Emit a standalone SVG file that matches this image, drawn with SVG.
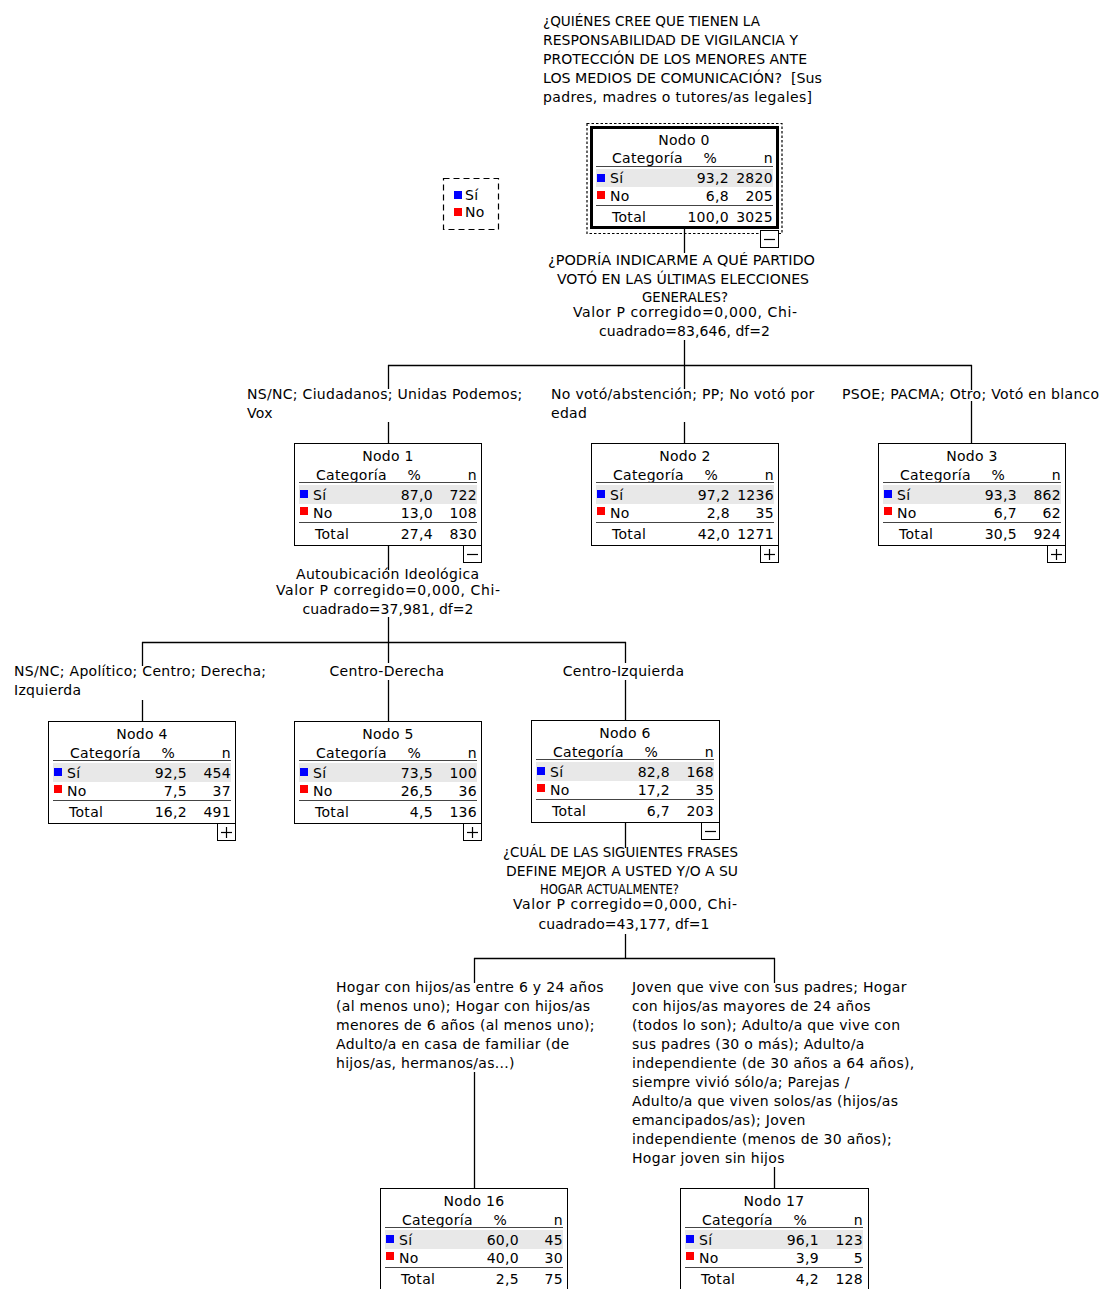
<svg xmlns="http://www.w3.org/2000/svg" width="1105" height="1289" viewBox="0 0 1105 1289">
<style>
text{font-family:"DejaVu Sans","Liberation Sans",sans-serif;font-size:14px;letter-spacing:0.3px;fill:#000}
.fit{letter-spacing:0}
.c{text-anchor:middle}
.r{text-anchor:end}
.box{fill:#fff;stroke:#000;stroke-width:1}
.sep{stroke:#444;stroke-width:1.2}
.band{fill:#e8e8e8}
.si{fill:#0000ff}
.no{fill:#ff0000}
.tog{fill:#fff;stroke:#000;stroke-width:1}
.sym{stroke:#000;stroke-width:1.2}
.conn line{stroke:#000;stroke-width:1.3}
</style>
<defs>
<g id="sym-minus"><rect class="tog" x="0.5" y="0.5" width="18" height="17"/><line class="sym" x1="4" y1="9.5" x2="15" y2="9.5"/></g>
<g id="sym-plus"><rect class="tog" x="0.5" y="0.5" width="18" height="17"/><line class="sym" x1="4" y1="9.5" x2="15" y2="9.5"/><line class="sym" x1="9.5" y1="4" x2="9.5" y2="15"/></g>
</defs>

<!-- connectors -->
<g id="connectors" class="conn">
<line x1="684.5" y1="229" x2="684.5" y2="253"/>
<line x1="684.5" y1="340" x2="684.5" y2="365"/>
<line x1="388" y1="365.5" x2="972" y2="365.5"/>
<line x1="388.5" y1="365" x2="388.5" y2="389"/>
<line x1="388.5" y1="422" x2="388.5" y2="443"/>
<line x1="684.5" y1="365" x2="684.5" y2="389"/>
<line x1="684.5" y1="422" x2="684.5" y2="443"/>
<line x1="971.5" y1="365" x2="971.5" y2="390"/>
<line x1="971.5" y1="401" x2="971.5" y2="443"/>
<line x1="388.5" y1="546" x2="388.5" y2="570"/>
<line x1="388.5" y1="617" x2="388.5" y2="642"/>
<line x1="142" y1="642.5" x2="626" y2="642.5"/>
<line x1="142.5" y1="642" x2="142.5" y2="666"/>
<line x1="142.5" y1="700" x2="142.5" y2="721"/>
<line x1="388.5" y1="642" x2="388.5" y2="663"/>
<line x1="388.5" y1="680" x2="388.5" y2="721"/>
<line x1="625.5" y1="642" x2="625.5" y2="663"/>
<line x1="625.5" y1="680" x2="625.5" y2="721"/>
<line x1="625.5" y1="822" x2="625.5" y2="848"/>
<line x1="625.5" y1="934" x2="625.5" y2="958"/>
<line x1="474" y1="958.5" x2="775" y2="958.5"/>
<line x1="474.5" y1="958" x2="474.5" y2="983"/>
<line x1="474.5" y1="1072" x2="474.5" y2="1188"/>
<line x1="774.5" y1="958" x2="774.5" y2="983"/>
<line x1="774.5" y1="1167" x2="774.5" y2="1188"/>
</g>

<!-- dependent variable title -->
<g id="title">
<text class="fit" x="543" y="26" textLength="217" lengthAdjust="spacingAndGlyphs">¿QUIÉNES CREE QUE TIENEN LA</text>
<text class="fit" x="543" y="45" textLength="255" lengthAdjust="spacingAndGlyphs">RESPONSABILIDAD DE VIGILANCIA Y</text>
<text class="fit" x="543" y="64" textLength="264" lengthAdjust="spacingAndGlyphs">PROTECCIÓN DE LOS MENORES ANTE</text>
<text class="fit" x="543" y="83" textLength="279" lengthAdjust="spacingAndGlyphs">LOS MEDIOS DE COMUNICACIÓN?&#160; [Sus</text>
<text class="fit" x="543" y="102" textLength="269">padres, madres o tutores/as legales]</text>
</g>

<!-- legend -->
<g id="legend">
<rect x="443.5" y="178.5" width="55" height="51" fill="none" stroke="#000" stroke-width="1.2" stroke-dasharray="6,4"/>
<rect class="si" x="454" y="191" width="8" height="8"/>
<text x="465" y="200">Sí</text>
<rect class="no" x="454" y="208" width="8" height="8"/>
<text x="465" y="217">No</text>
</g>

<!-- split labels -->
<g id="split0">
<text class="c fit" x="681.5" y="265" textLength="267" lengthAdjust="spacingAndGlyphs">¿PODRÍA INDICARME A QUÉ PARTIDO</text>
<text class="c fit" x="683" y="284" textLength="252" lengthAdjust="spacingAndGlyphs">VOTÓ EN LAS ÚLTIMAS ELECCIONES</text>
<text class="c fit" x="685" y="302" textLength="86" lengthAdjust="spacingAndGlyphs">GENERALES?</text>
<text class="c fit" x="685" y="317" textLength="224">Valor P corregido=0,000, Chi-</text>
<text class="c fit" x="684.5" y="336" textLength="171">cuadrado=83,646, df=2</text>
</g>
<g id="split1">
<text class="c fit" x="387.5" y="579" textLength="183">Autoubicación Ideológica</text>
<text class="c fit" x="388" y="595" textLength="224">Valor P corregido=0,000, Chi-</text>
<text class="c fit" x="388" y="614" textLength="171">cuadrado=37,981, df=2</text>
</g>
<g id="split6">
<text class="c fit" x="620.5" y="857" textLength="235" lengthAdjust="spacingAndGlyphs">¿CUÁL DE LAS SIGUIENTES FRASES</text>
<text class="c fit" x="622" y="876" textLength="232" lengthAdjust="spacingAndGlyphs">DEFINE MEJOR A USTED Y/O A SU</text>
<text class="c fit" x="609.5" y="894" textLength="139" lengthAdjust="spacingAndGlyphs">HOGAR ACTUALMENTE?</text>
<text class="c fit" x="625" y="909" textLength="224">Valor P corregido=0,000, Chi-</text>
<text class="c fit" x="624" y="929" textLength="171">cuadrado=43,177, df=1</text>
</g>

<!-- branch labels -->
<g id="branch-labels">
<text x="247" y="399">NS/NC; Ciudadanos; Unidas Podemos;</text>
<text x="247" y="418">Vox</text>
<text x="551" y="399">No votó/abstención; PP; No votó por</text>
<text x="551" y="418">edad</text>
<text x="842" y="399">PSOE; PACMA; Otro; Votó en blanco</text>
<text x="14" y="676" class="fit" textLength="252">NS/NC; Apolítico; Centro; Derecha;</text>
<text x="14" y="695">Izquierda</text>
<text class="c" x="387" y="676">Centro-Derecha</text>
<text class="c" x="623.5" y="676">Centro-Izquierda</text>
<text x="336" y="992">Hogar con hijos/as entre 6 y 24 años</text>
<text x="336" y="1011">(al menos uno); Hogar con hijos/as</text>
<text x="336" y="1030">menores de 6 años (al menos uno);</text>
<text x="336" y="1049">Adulto/a en casa de familiar (de</text>
<text x="336" y="1068">hijos/as, hermanos/as...)</text>
<text x="632" y="992">Joven que vive con sus padres; Hogar</text>
<text x="632" y="1011">con hijos/as mayores de 24 años</text>
<text x="632" y="1030">(todos lo son); Adulto/a que vive con</text>
<text x="632" y="1049">sus padres (30 o más); Adulto/a</text>
<text x="632" y="1068">independiente (de 30 años a 64 años),</text>
<text x="632" y="1087">siempre vivió sólo/a; Parejas /</text>
<text x="632" y="1106">Adulto/a que viven solos/as (hijos/as</text>
<text x="632" y="1125">emancipados/as); Joven</text>
<text x="632" y="1144">independiente (menos de 30 años);</text>
<text x="632" y="1163">Hogar joven sin hijos</text>
</g>

<!-- Node 0 -->
<g id="node0">
<rect x="587" y="123.5" width="195" height="110" fill="none" stroke="#000" stroke-width="1.2" stroke-dasharray="2.5,2"/>
<g transform="translate(590,126)">
<rect x="1.5" y="1.5" width="186" height="100" fill="#fff" stroke="#000" stroke-width="3"/>
<text class="c" x="94" y="19">Nodo 0</text>
<text x="22" y="37">Categoría</text><text class="r" x="127" y="37">%</text><text class="r" x="183" y="37">n</text>
<line class="sep" x1="6" y1="40.5" x2="183" y2="40.5"/>
<rect class="band" x="6" y="43" width="177" height="18"/>
<rect class="si" x="7" y="48" width="8" height="8"/>
<text x="20" y="57">Sí</text><text class="r" x="139" y="57">93,2</text><text class="r" x="183" y="57">2820</text>
<rect class="no" x="7" y="65" width="8" height="8"/>
<text x="20" y="75">No</text><text class="r" x="139" y="75">6,8</text><text class="r" x="183" y="75">205</text>
<line class="sep" x1="6" y1="79.5" x2="183" y2="79.5"/>
<text x="22" y="96">Total</text><text class="r" x="139" y="96">100,0</text><text class="r" x="183" y="96">3025</text>
</g>
<use href="#sym-minus" x="760" y="230"/>
</g>

<!-- generic nodes -->
<g id="node1" transform="translate(294,443)">
<rect class="box" x="0.5" y="0.5" width="187" height="102"/>
<text class="c" x="94" y="18">Nodo 1</text>
<text x="22" y="37">Categoría</text><text class="r" x="127" y="37">%</text><text class="r" x="183" y="37">n</text>
<line class="sep" x1="5" y1="39.5" x2="183" y2="39.5"/>
<rect class="band" x="5" y="42" width="178" height="19"/>
<rect class="si" x="6" y="47" width="8" height="8"/>
<text x="19" y="57">Sí</text><text class="r" x="139" y="57">87,0</text><text class="r" x="183" y="57">722</text>
<rect class="no" x="6" y="64" width="8" height="8"/>
<text x="19" y="75">No</text><text class="r" x="139" y="75">13,0</text><text class="r" x="183" y="75">108</text>
<line class="sep" x1="5" y1="79.5" x2="183" y2="79.5"/>
<text x="21" y="96">Total</text><text class="r" x="139" y="96">27,4</text><text class="r" x="183" y="96">830</text>
<use href="#sym-minus" x="169" y="102"/>
</g>

<g id="node2" transform="translate(591,443)">
<rect class="box" x="0.5" y="0.5" width="187" height="102"/>
<text class="c" x="94" y="18">Nodo 2</text>
<text x="22" y="37">Categoría</text><text class="r" x="127" y="37">%</text><text class="r" x="183" y="37">n</text>
<line class="sep" x1="5" y1="39.5" x2="183" y2="39.5"/>
<rect class="band" x="5" y="42" width="178" height="19"/>
<rect class="si" x="6" y="47" width="8" height="8"/>
<text x="19" y="57">Sí</text><text class="r" x="139" y="57">97,2</text><text class="r" x="183" y="57">1236</text>
<rect class="no" x="6" y="64" width="8" height="8"/>
<text x="19" y="75">No</text><text class="r" x="139" y="75">2,8</text><text class="r" x="183" y="75">35</text>
<line class="sep" x1="5" y1="79.5" x2="183" y2="79.5"/>
<text x="21" y="96">Total</text><text class="r" x="139" y="96">42,0</text><text class="r" x="183" y="96">1271</text>
<use href="#sym-plus" x="169" y="102"/>
</g>

<g id="node3" transform="translate(878,443)">
<rect class="box" x="0.5" y="0.5" width="187" height="102"/>
<text class="c" x="94" y="18">Nodo 3</text>
<text x="22" y="37">Categoría</text><text class="r" x="127" y="37">%</text><text class="r" x="183" y="37">n</text>
<line class="sep" x1="5" y1="39.5" x2="183" y2="39.5"/>
<rect class="band" x="5" y="42" width="178" height="19"/>
<rect class="si" x="6" y="47" width="8" height="8"/>
<text x="19" y="57">Sí</text><text class="r" x="139" y="57">93,3</text><text class="r" x="183" y="57">862</text>
<rect class="no" x="6" y="64" width="8" height="8"/>
<text x="19" y="75">No</text><text class="r" x="139" y="75">6,7</text><text class="r" x="183" y="75">62</text>
<line class="sep" x1="5" y1="79.5" x2="183" y2="79.5"/>
<text x="21" y="96">Total</text><text class="r" x="139" y="96">30,5</text><text class="r" x="183" y="96">924</text>
<use href="#sym-plus" x="169" y="102"/>
</g>

<g id="node4" transform="translate(48,721)">
<rect class="box" x="0.5" y="0.5" width="187" height="102"/>
<text class="c" x="94" y="18">Nodo 4</text>
<text x="22" y="37">Categoría</text><text class="r" x="127" y="37">%</text><text class="r" x="183" y="37">n</text>
<line class="sep" x1="5" y1="39.5" x2="183" y2="39.5"/>
<rect class="band" x="5" y="42" width="178" height="19"/>
<rect class="si" x="6" y="47" width="8" height="8"/>
<text x="19" y="57">Sí</text><text class="r" x="139" y="57">92,5</text><text class="r" x="183" y="57">454</text>
<rect class="no" x="6" y="64" width="8" height="8"/>
<text x="19" y="75">No</text><text class="r" x="139" y="75">7,5</text><text class="r" x="183" y="75">37</text>
<line class="sep" x1="5" y1="79.5" x2="183" y2="79.5"/>
<text x="21" y="96">Total</text><text class="r" x="139" y="96">16,2</text><text class="r" x="183" y="96">491</text>
<use href="#sym-plus" x="169" y="102"/>
</g>

<g id="node5" transform="translate(294,721)">
<rect class="box" x="0.5" y="0.5" width="187" height="102"/>
<text class="c" x="94" y="18">Nodo 5</text>
<text x="22" y="37">Categoría</text><text class="r" x="127" y="37">%</text><text class="r" x="183" y="37">n</text>
<line class="sep" x1="5" y1="39.5" x2="183" y2="39.5"/>
<rect class="band" x="5" y="42" width="178" height="19"/>
<rect class="si" x="6" y="47" width="8" height="8"/>
<text x="19" y="57">Sí</text><text class="r" x="139" y="57">73,5</text><text class="r" x="183" y="57">100</text>
<rect class="no" x="6" y="64" width="8" height="8"/>
<text x="19" y="75">No</text><text class="r" x="139" y="75">26,5</text><text class="r" x="183" y="75">36</text>
<line class="sep" x1="5" y1="79.5" x2="183" y2="79.5"/>
<text x="21" y="96">Total</text><text class="r" x="139" y="96">4,5</text><text class="r" x="183" y="96">136</text>
<use href="#sym-plus" x="169" y="102"/>
</g>

<g id="node6" transform="translate(531,720)">
<rect class="box" x="0.5" y="0.5" width="188" height="102"/>
<text class="c" x="94" y="18">Nodo 6</text>
<text x="22" y="37">Categoría</text><text class="r" x="127" y="37">%</text><text class="r" x="183" y="37">n</text>
<line class="sep" x1="5" y1="39.5" x2="183" y2="39.5"/>
<rect class="band" x="5" y="42" width="178" height="19"/>
<rect class="si" x="6" y="47" width="8" height="8"/>
<text x="19" y="57">Sí</text><text class="r" x="139" y="57">82,8</text><text class="r" x="183" y="57">168</text>
<rect class="no" x="6" y="64" width="8" height="8"/>
<text x="19" y="75">No</text><text class="r" x="139" y="75">17,2</text><text class="r" x="183" y="75">35</text>
<line class="sep" x1="5" y1="79.5" x2="183" y2="79.5"/>
<text x="21" y="96">Total</text><text class="r" x="139" y="96">6,7</text><text class="r" x="183" y="96">203</text>
<use href="#sym-minus" x="170" y="102"/>
</g>

<g id="node16" transform="translate(380,1188)">
<rect class="box" x="0.5" y="0.5" width="187" height="102"/>
<text class="c" x="94" y="18">Nodo 16</text>
<text x="22" y="37">Categoría</text><text class="r" x="127" y="37">%</text><text class="r" x="183" y="37">n</text>
<line class="sep" x1="5" y1="39.5" x2="183" y2="39.5"/>
<rect class="band" x="5" y="42" width="178" height="19"/>
<rect class="si" x="6" y="47" width="8" height="8"/>
<text x="19" y="57">Sí</text><text class="r" x="139" y="57">60,0</text><text class="r" x="183" y="57">45</text>
<rect class="no" x="6" y="64" width="8" height="8"/>
<text x="19" y="75">No</text><text class="r" x="139" y="75">40,0</text><text class="r" x="183" y="75">30</text>
<line class="sep" x1="5" y1="79.5" x2="183" y2="79.5"/>
<text x="21" y="96">Total</text><text class="r" x="139" y="96">2,5</text><text class="r" x="183" y="96">75</text>
</g>

<g id="node17" transform="translate(680,1188)">
<rect class="box" x="0.5" y="0.5" width="188" height="102"/>
<text class="c" x="94" y="18">Nodo 17</text>
<text x="22" y="37">Categoría</text><text class="r" x="127" y="37">%</text><text class="r" x="183" y="37">n</text>
<line class="sep" x1="5" y1="39.5" x2="183" y2="39.5"/>
<rect class="band" x="5" y="42" width="178" height="19"/>
<rect class="si" x="6" y="47" width="8" height="8"/>
<text x="19" y="57">Sí</text><text class="r" x="139" y="57">96,1</text><text class="r" x="183" y="57">123</text>
<rect class="no" x="6" y="64" width="8" height="8"/>
<text x="19" y="75">No</text><text class="r" x="139" y="75">3,9</text><text class="r" x="183" y="75">5</text>
<line class="sep" x1="5" y1="79.5" x2="183" y2="79.5"/>
<text x="21" y="96">Total</text><text class="r" x="139" y="96">4,2</text><text class="r" x="183" y="96">128</text>
</g>
</svg>
